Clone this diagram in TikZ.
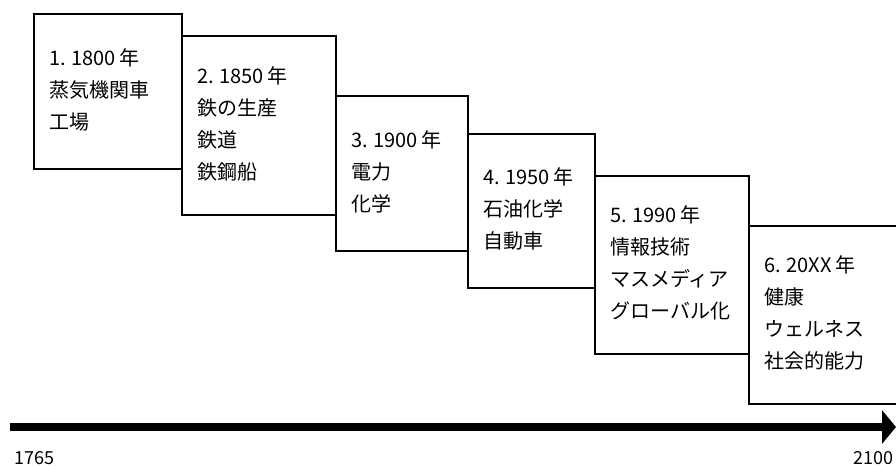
\documentclass[tikz,border=0pt]{standalone}
\usepackage{fontspec}
\setmainfont{Noto Sans CJK JP}[WordSpace=0.9]
\usetikzlibrary{arrows.meta}

\begin{document}
\begin{tikzpicture}[x=1pt, y=-1pt,
    period/.style={draw, line width=1.6pt, fill=white, anchor=north west,
        inner sep=0pt, outer sep=0pt},
    periodtext/.style={anchor=west, inner sep=0pt, align=left,
        font=\fontsize{20}{32}\selectfont},
    yearlabel/.style={inner sep=0pt, anchor=west, font=\fontsize{18}{18}\selectfont}]
    % Parameters
    \def\axisY{427}
    \def\pad{15pt}

    % Frame of the picture
    \useasboundingbox (0,0) rectangle (896,467);

    % Period boxes, stepping down to the right
    \node[period, minimum width=148pt, minimum height=155pt] (p1) at (34,14) {};
    \node[period, minimum width=154pt, minimum height=179pt] (p2) at (182,36) {};
    \node[period, minimum width=132pt, minimum height=155pt] (p3) at (336,96) {};
    \node[period, minimum width=127pt, minimum height=154pt] (p4) at (468,134) {};
    \node[period, minimum width=154pt, minimum height=178pt] (p5) at (595,176) {};
    \node[period, minimum width=155pt, minimum height=178pt] (p6) at (749,226) {};

    % Texts inside the boxes
    \node[periodtext] (t1) at ([xshift=\pad, yshift=2pt]p1.west) {1. 1800 年\\蒸気機関車\\工場};
    \node[periodtext] (t2) at ([xshift=\pad, yshift=2pt]p2.west) {2. 1850 年\\鉄の生産\\鉄道\\鉄鋼船};
    \node[periodtext] (t3) at ([xshift=\pad, yshift=2pt]p3.west) {3. 1900 年\\電力\\化学};
    \node[periodtext] (t4) at ([xshift=\pad, yshift=2pt]p4.west) {4. 1950 年\\石油化学\\自動車};
    \node[periodtext] (t5) at ([xshift=\pad, yshift=2pt]p5.west) {5. 1990 年\\情報技術\\マスメディア\\グローバル化};
    \node[periodtext] (t6) at ([xshift=\pad, yshift=2pt]p6.west) {6. 20XX 年\\健康\\ウェルネス\\社会的能力};

    % Time axis
    \coordinate (tail) at (10,\axisY);
    \coordinate (tip) at (896,\axisY);
    \draw[line width=8pt, -{Triangle[length=14pt, width=33pt]}] (tail) -- (tip);

    % Axis end labels
    \node[yearlabel] (start) at (14,458) {1765};
    \node[yearlabel] (end) at (853,458) {2100};
\end{tikzpicture}
\end{document}
